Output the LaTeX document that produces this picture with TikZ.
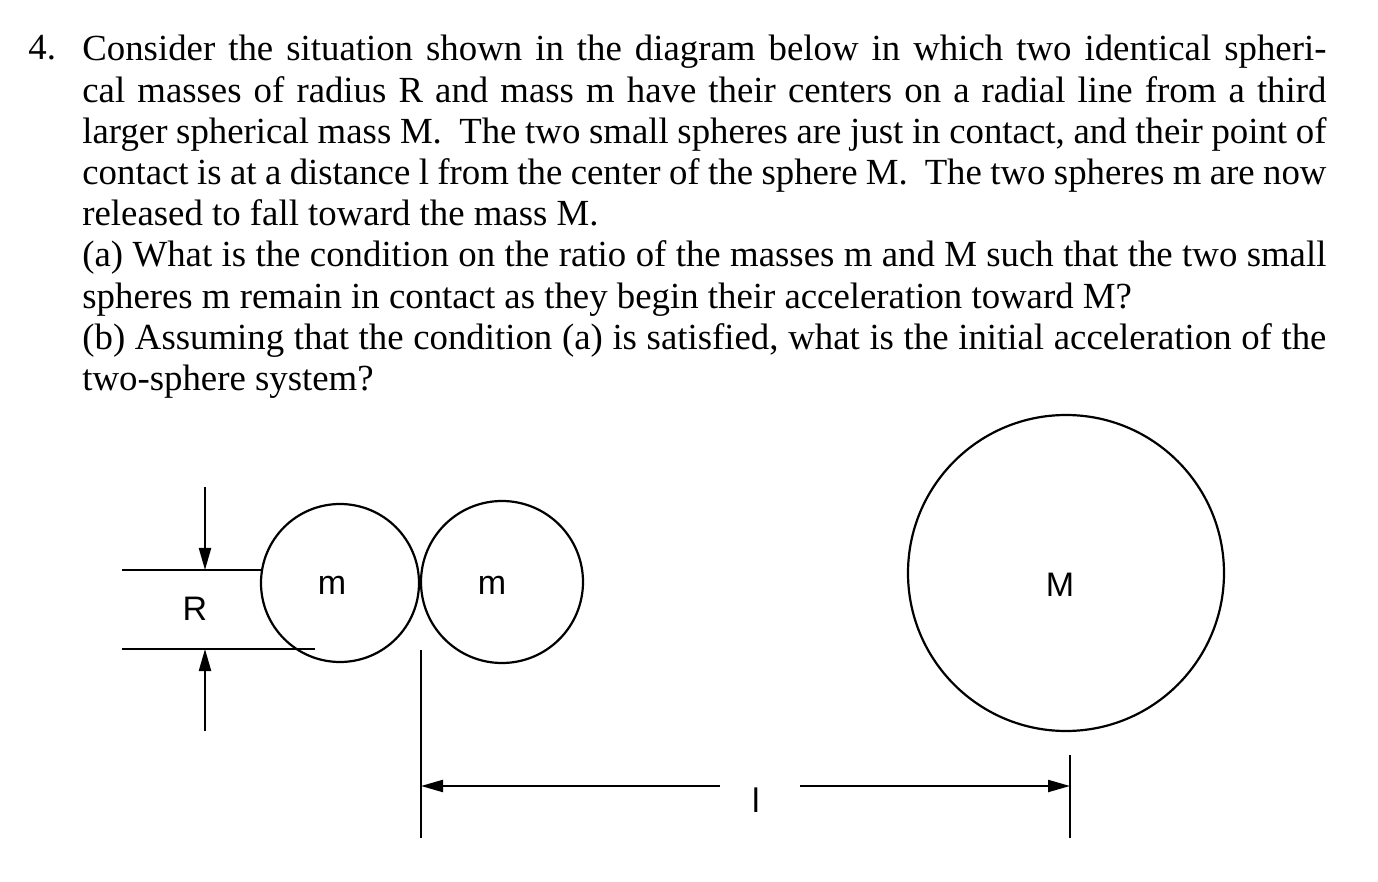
\documentclass[tikz,border=0pt]{standalone}
\usepackage{fontspec}
\setmainfont{Liberation Serif}
\newfontfamily\lsans{Liberation Sans}
\usetikzlibrary{arrows.meta}
\begin{document}
\begin{tikzpicture}[x=0.5pt,y=-0.5pt,
  ln/.style={line width=1.1pt},
  arr/.style={ln,-{Triangle[length=11pt,width=6pt]}},
  lab/.style={font=\lsans\fontsize{17}{20}\selectfont,inner sep=0pt}]
\useasboundingbox (0,0) rectangle (1378,882);
\node[anchor=north west,inner sep=0pt] (num) at (28,35) {\fontsize{18.4}{20.6}\selectfont 4.};
\node[anchor=north west,inner sep=0pt,text width=622pt,align=justify] (txt) at (82,35) {\fontsize{18.4}{20.6}\selectfont
Consider the situation shown in the diagram below in which two identical spherical masses of radius R and mass m have their centers on a radial line from a third larger spherical mass M.\ \ The two small spheres are just in contact, and their point of\linebreak contact is at a distance l from the center of the sphere M.\ \ The two spheres m are now\linebreak released to fall toward the mass M.\par
(a) What is the condition on the ratio of the masses m and M such that the two small spheres m remain in contact as they begin their acceleration toward M?\par
(b) Assuming that the condition (a) is satisfied, what is the initial acceleration of the two-sphere system?\par};
% spheres
\node[circle,draw,ln,minimum size=79pt,inner sep=0pt] (m1) at (340,583) {};
\node[circle,draw,ln,minimum size=81pt,inner sep=0pt] (m2) at (502,582) {};
\node[circle,draw,ln,minimum size=158pt,inner sep=0pt] (M) at (1066,573) {};
\node[lab] (lm1) at (332,585) {m};
\node[lab] (lm2) at (492,585) {m};
\node[lab] (lM) at (1060,585) {M};
% R dimension
\coordinate (r1a) at (122,570); \coordinate (r1b) at (262,570);
\coordinate (r2a) at (122,649); \coordinate (r2b) at (315,649);
\draw[ln] (r1a) -- (r1b);
\draw[ln] (r2a) -- (r2b);
\coordinate (ta) at (205,487); \coordinate (tb) at (205,570);
\coordinate (ba) at (205,731); \coordinate (bb) at (205,649);
\draw[arr] (ta) -- (tb);
\draw[arr] (ba) -- (bb);
\node[lab] (lR) at (195,609) {R};
% l dimension
\coordinate (v1a) at (421,650); \coordinate (v1b) at (421,838);
\coordinate (v2a) at (1070,755); \coordinate (v2b) at (1070,838);
\draw[ln] (v1a) -- (v1b);
\draw[ln] (v2a) -- (v2b);
\coordinate (h1) at (720,786); \coordinate (h1e) at (421,786);
\coordinate (h2) at (800,786); \coordinate (h2e) at (1070,786);
\draw[arr] (h1) -- (h1e);
\draw[arr] (h2) -- (h2e);
\node[lab] (ll) at (756,800) {l};
\end{tikzpicture}
\end{document}
